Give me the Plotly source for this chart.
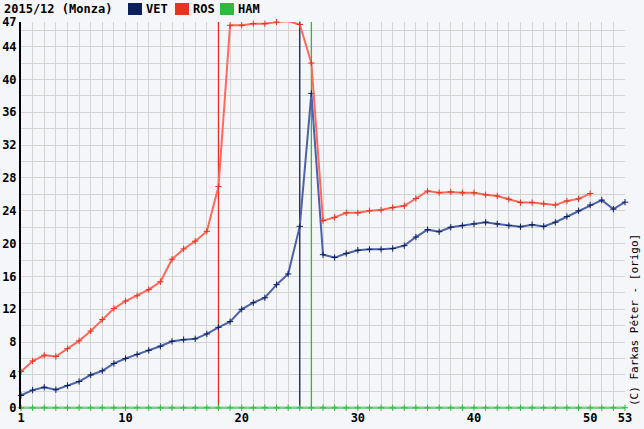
import plotly.graph_objects as go

laps = list(range(1, 54))
vet = [1.5, 2.15, 2.5, 2.2, 2.7, 3.2, 4.0, 4.5, 5.4, 6.0,
       6.5, 7.0, 7.5, 8.1, 8.3, 8.4, 9.0, 9.8, 10.5, 12.0,
       12.8, 13.4, 15.0, 16.3, 22.1, 38.3, 18.65, 18.3, 18.8, 19.2,
       19.3, 19.3, 19.4, 19.75, 20.8, 21.7, 21.45, 22.0, 22.2, 22.4,
       22.6, 22.4, 22.2, 22.05, 22.3, 22.1, 22.6, 23.3, 24.0, 24.7,
       25.3, 24.2, 25.05]
ros_laps = list(range(1, 51))
ros = [4.4, 5.7, 6.4, 6.25, 7.2, 8.15, 9.35, 10.75, 12.1, 13.0,
       13.65, 14.4, 15.35, 18.1, 19.35, 20.3, 21.5, 26.95, 46.6, 46.6,
       46.8, 46.8, 47.0, 47.1, 46.7, 42.0, 22.8, 23.2, 23.75, 23.75,
       24.0, 24.1, 24.4, 24.6, 25.5, 26.4, 26.2, 26.3, 26.2, 26.2,
       25.95, 25.8, 25.4, 25.0, 25.0, 24.85, 24.7, 25.2, 25.45, 26.1]
ham = [0] * 53
pit_laps = {"VET": 25, "ROS": 18, "HAM": 26}

names = ["VET", "ROS", "HAM"]
legend_colors = {"VET": "#0b1f5e", "ROS": "#e8321e", "HAM": "#2dbb3d"}
line_colors = {"VET": "#4d60a8", "ROS": "#ff6a5c", "HAM": "#80cf88"}

x_ticks = [1, 10, 20, 30, 40, 50, 53]
y_ticks = [0, 4, 8, 12, 16, 20, 24, 28, 32, 36, 40, 44, 47]

FONT = "DejaVu Sans Mono"
L, R, T, B = 21, 19, 22, 20
W, H = 644, 429
PW, PH = W - L - R, H - T - B
Y0 = -0.15

fig = go.Figure()

series = {"VET": (laps, vet), "ROS": (ros_laps, ros), "HAM": (laps, ham)}
for n in ["HAM", "VET", "ROS"]:
    xs, ys = series[n]
    fig.add_trace(go.Scatter(
        x=xs, y=ys, mode="lines+markers", name=n, showlegend=False,
        line=dict(color=line_colors[n], width=2.5 if n == "HAM" else 2),
        marker=dict(symbol="cross-thin", size=4.5,
                    line=dict(color=legend_colors[n], width=1),
                    color=legend_colors[n]),
        cliponaxis=False))

shapes = []
for n in names:
    shapes.append(dict(type="line", xref="x", yref="y",
                       x0=pit_laps[n], x1=pit_laps[n], y0=0, y1=47,
                       line=dict(color=legend_colors[n], width=1.3), layer="between"))


def px_x(p):
    return (p - L) / PW


def px_y(p):
    return (H - B - p) / PH


annotations = [dict(text="<b>2015/12 (Monza)</b>", xref="paper", yref="paper",
                    x=px_x(2), y=px_y(9), xanchor="left", yanchor="middle",
                    showarrow=False,
                    font=dict(family=FONT, size=12, color="#000"))]
sq_x = [128, 175, 220]
for n, sx in zip(names, sq_x):
    shapes.append(dict(type="rect", xref="paper", yref="paper",
                       x0=px_x(sx), x1=px_x(sx + 14), y0=px_y(15), y1=px_y(3),
                       fillcolor=legend_colors[n], line=dict(width=0)))
    annotations.append(dict(text="<b>%s</b>" % n, xref="paper", yref="paper",
                            x=px_x(sx + 16), y=px_y(9), xanchor="left",
                            yanchor="middle", showarrow=False,
                            font=dict(family=FONT, size=12, color="#000")))

annotations.append(dict(text="(C) Farkas Péter - [origo]", xref="paper", yref="paper",
                        x=px_x(634), y=px_y(408), xanchor="center", yanchor="bottom",
                        textangle=-90, showarrow=False,
                        font=dict(family=FONT, size=11, color="#000")))

fig.update_layout(
    width=W, height=H,
    margin=dict(l=L, r=R, t=T, b=B, pad=0),
    paper_bgcolor="#f5f6f9", plot_bgcolor="#f5f6f9",
    shapes=shapes, annotations=annotations,
    font=dict(family=FONT, size=12, color="#000"),
    xaxis=dict(range=[1, 53], tickvals=x_ticks, automargin=False,
               ticktext=["<b>%d</b>" % v for v in x_ticks],
               showgrid=True, gridcolor="#d4d4d4", gridwidth=1,
               minor=dict(dtick=1, tick0=1, showgrid=True, gridcolor="#d4d4d4", gridwidth=1),
               zeroline=False, showline=False, ticks="", ticklen=0),
    yaxis=dict(range=[Y0, 47], tickvals=y_ticks, automargin=False,
               ticktext=["<b>%d</b>" % v for v in y_ticks],
               showgrid=True, gridcolor="#d4d4d4", gridwidth=1,
               minor=dict(dtick=2, tick0=0, showgrid=True, gridcolor="#d4d4d4", gridwidth=1),
               zeroline=False, showline=True, linecolor="#000", linewidth=2,
               ticks="", ticklen=0),
)

fig.write_html("out.html", config={"displayModeBar": False},
               post_script="document.body.style.margin='0';document.body.style.background='#f5f6f9';")
